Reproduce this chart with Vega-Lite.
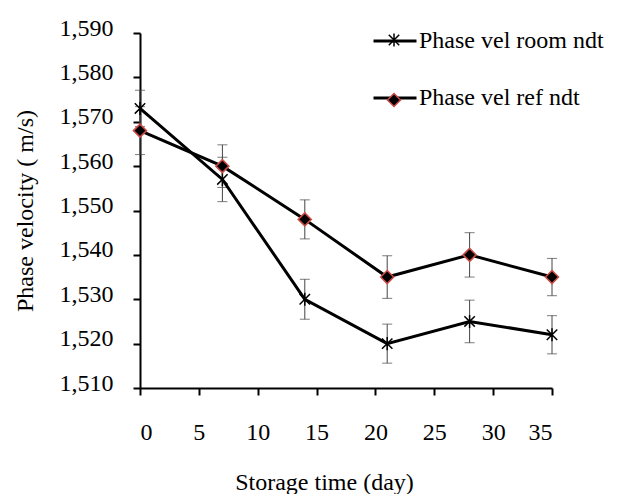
{
  "$schema": "https://vega.github.io/schema/vega-lite/v6.json",
  "autosize": {"type": "none"},
  "width": 412,
  "height": 355,
  "padding": {"left": 140, "top": 33, "right": 67, "bottom": 106},
  "background": "white",
  "config": {
    "font": "Liberation Serif",
    "view": {"stroke": null},
    "axis": {
      "labelFont": "Liberation Serif",
      "titleFont": "Liberation Serif",
      "labelFontSize": 24,
      "titleFontSize": 24,
      "titleFontWeight": "normal",
      "labelColor": "black",
      "titleColor": "black",
      "domainColor": "black",
      "domainWidth": 2,
      "tickColor": "black",
      "tickWidth": 2,
      "tickSize": 7,
      "grid": false
    },
    "legend": {
      "labelFont": "Liberation Serif",
      "labelFontSize": 24,
      "labelColor": "black",
      "labelLimit": 0
    }
  },
  "data": {
    "values": [
      {"day": 0, "series": "Phase vel room ndt", "v": 1573, "lo": 1568.9, "hi": 1577.1},
      {"day": 7, "series": "Phase vel room ndt", "v": 1557, "lo": 1552, "hi": 1562},
      {"day": 14, "series": "Phase vel room ndt", "v": 1530, "lo": 1525.5, "hi": 1534.5},
      {"day": 21, "series": "Phase vel room ndt", "v": 1520, "lo": 1515.6, "hi": 1524.4},
      {"day": 28, "series": "Phase vel room ndt", "v": 1525, "lo": 1520.2, "hi": 1529.8},
      {"day": 35, "series": "Phase vel room ndt", "v": 1522, "lo": 1517.7, "hi": 1526.3},
      {"day": 0, "series": "Phase vel ref ndt", "v": 1568, "lo": 1562.6, "hi": 1573.4},
      {"day": 7, "series": "Phase vel ref ndt", "v": 1560, "lo": 1555.2, "hi": 1564.8},
      {"day": 14, "series": "Phase vel ref ndt", "v": 1548, "lo": 1543.6, "hi": 1552.4},
      {"day": 21, "series": "Phase vel ref ndt", "v": 1535, "lo": 1530.2, "hi": 1539.8},
      {"day": 28, "series": "Phase vel ref ndt", "v": 1540, "lo": 1535, "hi": 1545},
      {"day": 35, "series": "Phase vel ref ndt", "v": 1535, "lo": 1530.8, "hi": 1539.2}
    ]
  },
  "encoding": {
    "x": {
      "field": "day",
      "type": "quantitative",
      "scale": {"domain": [0, 35], "nice": false, "zero": false},
      "axis": {
        "title": "Storage time (day)",
        "values": [0, 5, 10, 15, 20, 25, 30, 35],
        "format": "d",
        "labelPadding": 25,
        "titleX": 184,
        "titleY": 101,
        "titleAlign": "center",
        "titleBaseline": "alphabetic"
      }
    }
  },
  "layer": [
    {
      "mark": {
        "type": "errorbar",
        "ticks": {"size": 10, "color": "#444444", "strokeWidth": 1},
        "rule": {"color": "#444444", "strokeWidth": 1}
      },
      "encoding": {
        "y": {
          "field": "lo",
          "type": "quantitative",
          "scale": {"domain": [1510, 1590], "nice": false, "zero": false},
          "axis": {
            "title": "Phase velocity ( m/s)",
            "values": [1510, 1520, 1530, 1540, 1550, 1560, 1570, 1580, 1590],
            "format": ",d",
            "labelPadding": 20,
            "labelBaseline": "alphabetic",
            "labelOffset": 2,
            "titlePadding": 22
          }
        },
        "y2": {"field": "hi"},
        "detail": {"field": "series", "type": "nominal"}
      }
    },
    {
      "mark": {"type": "line", "strokeWidth": 3},
      "encoding": {
        "y": {"field": "v", "type": "quantitative"},
        "color": {
          "field": "series",
          "type": "nominal",
          "scale": {"domain": ["Phase vel room ndt", "Phase vel ref ndt"], "range": ["black", "black"]},
          "legend": {
            "title": null,
            "orient": "none",
            "legendX": 232,
            "legendY": -15,
            "symbolType": "stroke",
            "symbolSize": 1849,
            "symbolStrokeWidth": 3,
            "symbolStrokeColor": "black",
            "labelOffset": 1,
            "rowPadding": 22
          }
        }
      }
    },
    {
      "mark": {"type": "point", "filled": true, "fill": "black", "strokeWidth": 1.5, "size": 170, "opacity": 1},
      "encoding": {
        "y": {"field": "v", "type": "quantitative"},
        "shape": {
          "field": "series",
          "type": "nominal",
          "scale": {"range": ["diamond", "M-0.8,-0.8L0.8,0.8M-0.8,0.8L0.8,-0.8M0,-1L0,1"]},
          "legend": {
            "title": null,
            "orient": "none",
            "legendX": 242,
            "legendY": -5,
            "values": ["Phase vel room ndt", "Phase vel ref ndt"],
            "symbolSize": 170,
            "symbolFillColor": "black",
            "symbolStrokeWidth": 1.5,
            "labelExpr": "''",
            "rowPadding": 36
          }
        },
        "stroke": {
          "field": "series",
          "type": "nominal",
          "scale": {"range": ["#cc4b45", "black"]},
          "legend": {
            "title": null,
            "orient": "none",
            "legendX": 242,
            "legendY": -5,
            "values": ["Phase vel room ndt", "Phase vel ref ndt"],
            "symbolSize": 170,
            "symbolFillColor": "black",
            "symbolStrokeWidth": 1.5,
            "labelExpr": "''",
            "rowPadding": 36
          }
        }
      }
    }
  ]
}
